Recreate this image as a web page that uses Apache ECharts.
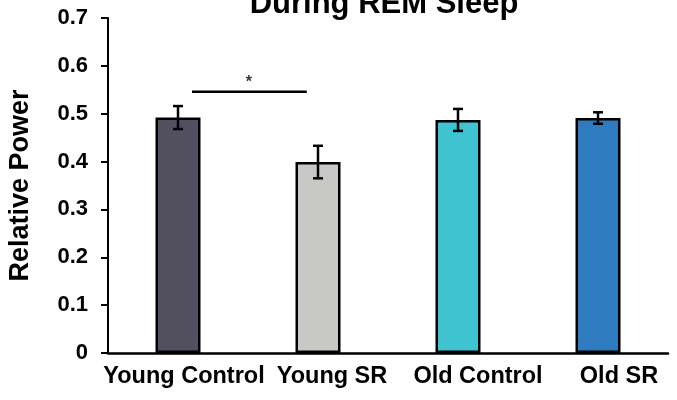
<!DOCTYPE html>
<html><head><meta charset="utf-8">
<script src="https://cdn.jsdelivr.net/npm/echarts@6/dist/echarts.min.js"></script>
<style>html,body{margin:0;padding:0;background:#fff}#c{width:677px;height:400px}</style>
</head><body><div id="c"></div>
<script>
const categories = ['Young Control', 'Young SR', 'Old Control', 'Old SR'];
const means = [0.492, 0.399, 0.487, 0.491];
const errors = [0.024, 0.034, 0.023, 0.012];
const barColors = ['#52505e', '#c8c8c6', '#3fc3d0', '#2e7bbf'];
const labelShift = [6, 14, 20, 21];
const yTicks = [0, 0.1, 0.2, 0.3, 0.4, 0.5, 0.6, 0.7];
const sigLineX = [0.1, 0.92];
const sigLineY = 0.546;
const sigStar = {x: 0.507, y: 0.565, text: '*'};
const titleText = 'During REM Sleep';
const yName = 'Relative Power';

const FONT = '"Liberation Sans", Arial, sans-serif';
const chart = echarts.init(document.getElementById('c'), null, {renderer: 'canvas'});
chart.setOption({
  animation: false,
  title: {text: titleText, left: 379, textAlign: 'center', top: -16,
    textStyle: {fontFamily: FONT, fontWeight: 'bold', fontSize: 31, color: '#000'}},
  grid: {left: 108, right: 9, top: 18, bottom: 47, containLabel: false, outerBoundsMode: 'none'},
  xAxis: [{
    type: 'category',
    data: categories.map((c, i) => ({value: c, textStyle: {padding: [0, 0, 0, labelShift[i] * 2]}})),
    axisLine: {lineStyle: {color: '#000', width: 2.5}},
    axisTick: {show: false},
    axisLabel: {fontFamily: FONT, fontWeight: 'bold', fontSize: 23.5, color: '#000', margin: 12, interval: 0}
  }, {
    type: 'value', min: -0.5, max: 3.5, show: false
  }],
  yAxis: {
    type: 'value', min: 0, max: 0.7, interval: 0.1,
    name: yName, nameLocation: 'middle', nameGap: 74, nameRotate: 90,
    nameTextStyle: {fontFamily: FONT, fontWeight: 'bold', fontSize: 27, color: '#000'},
    axisLine: {show: true, onZero: false, lineStyle: {color: '#000', width: 2}},
    axisTick: {show: true, inside: false, length: 7, lineStyle: {color: '#000', width: 2}},
    splitLine: {show: false},
    axisLabel: {fontFamily: FONT, fontWeight: 'bold', fontSize: 22, color: '#000', margin: 20,
      formatter: v => (Math.abs(v) < 1e-9 ? '0' : v.toFixed(1))}
  },
  series: [{
    type: 'bar',
    barWidth: 45,
    data: means.map((m, i) => ({value: m, itemStyle: {color: barColors[i]}})),
    itemStyle: {borderColor: '#000', borderWidth: 2.5}
  }, {
    type: 'custom',
    z: 5,
    data: means.map((m, i) => [i, m - errors[i], m + errors[i]]),
    renderItem: function (params, api) {
      const lo = api.coord([api.value(0), api.value(1)]);
      const hi = api.coord([api.value(0), api.value(2)]);
      const hw = 5;
      const st = {stroke: '#000', lineWidth: 2.5};
      return {type: 'group', children: [
        {type: 'line', shape: {x1: lo[0], y1: lo[1], x2: hi[0], y2: hi[1]}, style: st},
        {type: 'line', shape: {x1: lo[0] - hw, y1: lo[1], x2: lo[0] + hw, y2: lo[1]}, style: st},
        {type: 'line', shape: {x1: hi[0] - hw, y1: hi[1], x2: hi[0] + hw, y2: hi[1]}, style: st}
      ]};
    }
  }, {
    type: 'line',
    xAxisIndex: 1,
    data: sigLineX.map(x => [x, sigLineY]),
    symbol: 'none',
    lineStyle: {color: '#000', width: 2.5}
  }, {
    type: 'scatter',
    xAxisIndex: 1,
    data: [[sigStar.x, sigStar.y]],
    symbolSize: 0,
    label: {show: true, position: 'inside', formatter: sigStar.text,
      fontFamily: FONT, fontWeight: 'bold', fontSize: 16, color: '#000'}
  }]
});
</script></body></html>
